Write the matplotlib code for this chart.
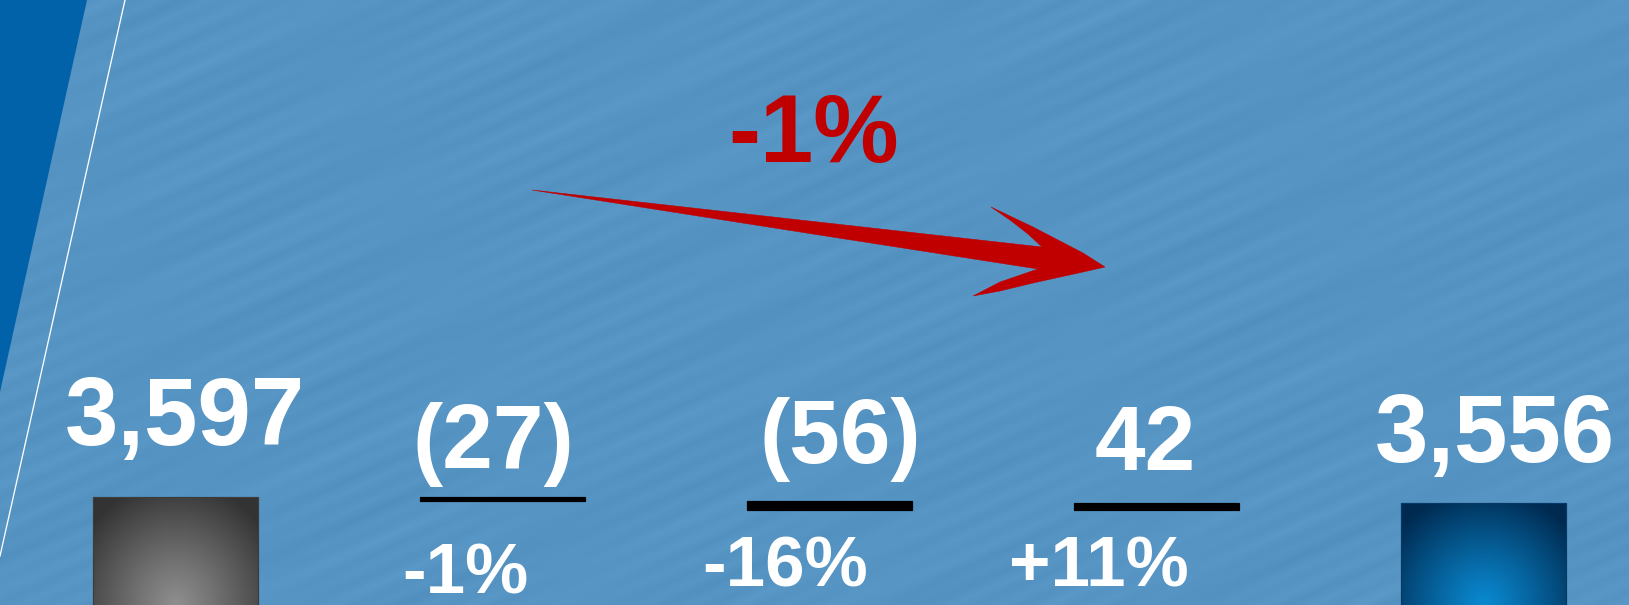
import numpy as np
import matplotlib
matplotlib.use("Agg")
import matplotlib.pyplot as plt
import matplotlib.transforms as mtransforms
from matplotlib.patches import Polygon
from matplotlib.lines import Line2D

# ---------------- data ----------------
categories = ["Start", "Change 1", "Change 2", "Change 3", "End"]
start_value = 3597
changes = [-27, -56, 42]
end_value = 3556
value_labels = ["3,597", "(27)", "(56)", "42", "3,556"]
pct_labels = ["-1%", "-16%", "+11%"]
total_change_label = "-1%"

# ---------------- layout ----------------
W, H, DPI = 1629, 605, 72
BG = "#5594C3"
fig = plt.figure(figsize=(W / DPI, H / DPI), dpi=DPI, facecolor=BG)
FONT = ["Liberation Sans", "Arial", "DejaVu Sans"]

# pixel (top-left origin) transform for decorations
pix = mtransforms.Affine2D().scale(1 / W, -1 / H).translate(0, 1) + fig.transFigure

# subtle diagonal streak texture for the slide background (deterministic)
bg_ax = fig.add_axes([0, 0, 1, 1], zorder=-10)
bg_ax.set_axis_off()
yy, xx = np.mgrid[0:H:2, 0:W:2].astype(float)
d = xx * np.sin(np.radians(24)) + yy * np.cos(np.radians(24))
along = xx * np.cos(np.radians(24)) - yy * np.sin(np.radians(24))
tex = (0.5 * np.sin(d / 3.1) * np.sin(along / 90.0)
       + 0.35 * np.sin(d / 7.3 + 1.3) * np.sin(along / 140.0 + 0.7)
       + 0.25 * np.sin(d / 17.0 + 0.4))
base = np.array(matplotlib.colors.to_rgb(BG))
img = np.clip(base[None, None, :] + 0.018 * tex[..., None], 0, 1)
bg_ax.imshow(img, extent=(0, W, H, 0), aspect="auto", interpolation="bilinear")
bg_ax.set_xlim(0, W)
bg_ax.set_ylim(H, 0)

# decorative left stripe and thin white line
fig.patches.append(Polygon([(0, 0), (87, 0), (0, 392)], closed=True,
                           facecolor="#0262A9", edgecolor="none", transform=pix, zorder=-5))
fig.lines.append(Line2D([125, 0], [0, 556], color="white", lw=1.3, transform=pix, zorder=-5))

ax = fig.add_axes([0, 0, 1, 1])
ax.set_axis_off()
ax.patch.set_visible(False)
XLIM = (-0.537, 4.445)
YLIM = (2886.5, 6866.7)

# waterfall geometry from data
x = np.arange(len(categories))
cum = [start_value]
for c in changes:
    cum.append(cum[-1] + c)
bottoms = [0] + [min(cum[i], cum[i + 1]) for i in range(len(changes))] + [0]
heights = [start_value] + [abs(c) for c in changes] + [end_value]
tops = [b + h for b, h in zip(bottoms, heights)]

bar_w = 0.505
bars = ax.bar(x, heights, bottom=bottoms, width=bar_w,
              color=["none", "black", "black", "black", "none"],
              edgecolor=["#3c3c3c", "black", "black", "black", "#063a66"],
              linewidth=1.2, zorder=3)
ax.set_xlim(*XLIM)
ax.set_ylim(*YLIM)


def radial_fill(bar, c_center, c_edge):
    x0 = bar.get_x()
    x1 = x0 + bar.get_width()
    yb = YLIM[0]
    yt = bar.get_y() + bar.get_height()
    nx, ny = 200, 200
    u = np.linspace(-1, 1, nx)[None, :]
    v = np.linspace(0, 1, ny)[:, None]  # 0 at bottom, 1 at top
    t = np.sqrt(0.55 * u ** 2 + 0.75 * v ** 2)
    t = np.clip(t, 0, 1) ** 1.1
    cc = np.array(matplotlib.colors.to_rgb(c_center))
    ce = np.array(matplotlib.colors.to_rgb(c_edge))
    g = cc[None, None, :] * (1 - t[..., None]) + ce[None, None, :] * t[..., None]
    im = ax.imshow(g, extent=(x0, x1, yb, yt), origin="lower",
                   aspect="auto", zorder=2, interpolation="bilinear")
    im.set_clip_path(bar)


radial_fill(bars[0], "#8e8e8e", "#333333")
radial_fill(bars[-1], "#0a8ad2", "#002a50")
ax.set_xlim(*XLIM)
ax.set_ylim(*YLIM)

# value labels (offsets in pixels == points at dpi 72)
label_offsets = [(9, 52), (-9.5, 29), (10.5, 38), (-11.5, 33), (11, 41)]
label_sizes = [96, 91, 91, 91, 96]
for i, (lab, (dx, dy), fs) in enumerate(zip(value_labels, label_offsets, label_sizes)):
    ax.annotate(lab, xy=(x[i], tops[i]), xytext=(dx, dy), textcoords="offset points",
                ha="center", va="baseline", fontsize=fs, fontweight="bold",
                color="white", family=FONT, zorder=5)

pct_offsets = [(-37, -92), (-44, -77), (-58, -77)]
for j, (lab, (dx, dy)) in enumerate(zip(pct_labels, pct_offsets)):
    i = j + 1
    ax.annotate(lab, xy=(x[i], bottoms[i]), xytext=(dx, dy), textcoords="offset points",
                ha="center", va="baseline", fontsize=71, fontweight="bold",
                color="white", family=FONT, zorder=5)

# overall change label and red arrow
RED = "#C00000"
fig.text(813.5, 162, total_change_label, transform=pix, ha="center", va="baseline",
         fontsize=96, fontweight="bold", color=RED, family=FONT)

arrow_pts = [
    (532, 190),
    (800, 220), (1042, 247),
    (1028, 234), (1010, 220), (991, 207),
    (1033, 227), (1083, 253), (1105, 267),
    (1083, 272), (1033, 283), (1000, 291), (973, 296),
    (1000, 282), (1038, 269),
    (800, 232),
]
fig.patches.append(Polygon(arrow_pts, closed=True, facecolor=RED, edgecolor=RED,
                           lw=0.5, transform=pix))

fig.savefig("out.png", dpi=DPI, facecolor=BG)
